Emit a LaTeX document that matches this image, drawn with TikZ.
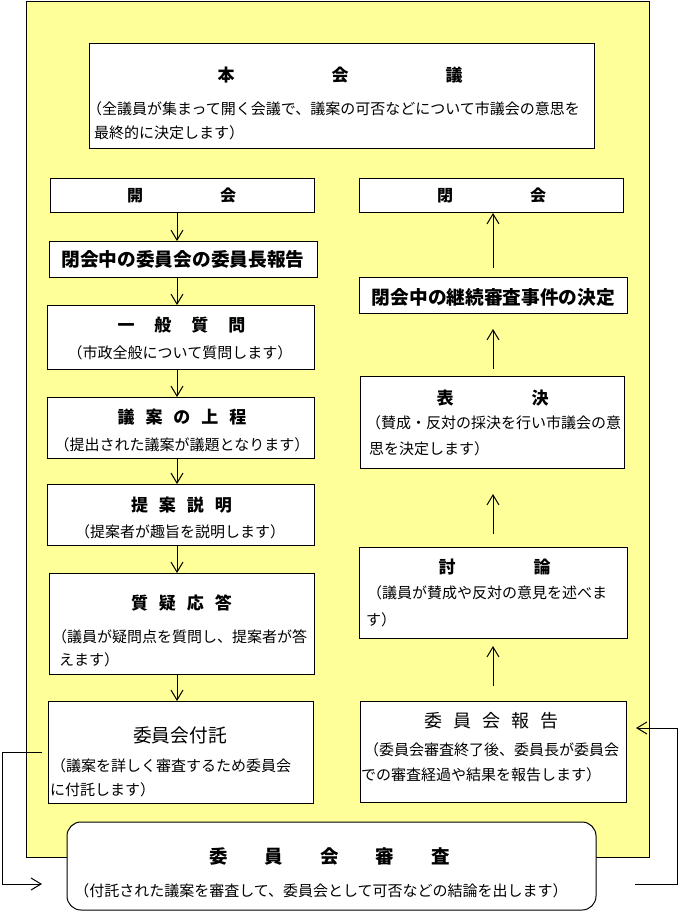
\documentclass[tikz,border=0pt]{standalone}
\usepackage{fontspec}
\newfontfamily\jp{Noto Sans CJK JP}
\usetikzlibrary{arrows.meta}
\definecolor{bgyellow}{HTML}{FFFF99}
\begin{document}
\begin{tikzpicture}[x=1pt,y=-1pt,
  box/.style={draw=black, line width=1pt, fill=white, anchor=north west, inner sep=0pt, outer sep=0pt},
  ttl/.style={inner sep=0pt, font=\jp\bfseries\fontsize{17}{17}\selectfont},
  ttlbig/.style={inner sep=0pt, font=\jp\bfseries\fontsize{18.7}{19}\selectfont},
  ttlreg/.style={inner sep=0pt, font=\jp\fontsize{18.7}{19}\selectfont},
  sub/.style={inner sep=0pt, font=\jp\fontsize{15}{15}\selectfont},
  subl/.style={sub, anchor=west},
  arr/.style={-{Straight Barb[length=10pt,width=12pt]}, line width=1pt}
]
\useasboundingbox (0,0) rectangle (679,911);
\fill[bgyellow, draw=black, line width=1pt] (26,1) rectangle (649,857);

% boxes
\node[box, minimum width=505pt, minimum height=105pt] (honkai) at (89,43) {};
\node[box, minimum width=264pt, minimum height=34pt] (kaikai) at (50,178) {};
\node[box, minimum width=268pt, minimum height=36pt] (ihoukoku) at (49,241) {};
\node[box, minimum width=267pt, minimum height=64pt] (ippan) at (47,305) {};
\node[box, minimum width=267pt, minimum height=61pt] (jotei) at (47,397) {};
\node[box, minimum width=267pt, minimum height=61pt] (setsumei) at (47,484) {};
\node[box, minimum width=265pt, minimum height=101pt] (shitsugi) at (49,573) {};
\node[box, minimum width=265pt, minimum height=102pt] (futaku) at (48,701) {};
\node[box, minimum width=264pt, minimum height=34pt] (heikai) at (359,178) {};
\node[box, minimum width=268pt, minimum height=36pt] (keizoku) at (359,277) {};
\node[box, minimum width=264pt, minimum height=92pt] (hyoketsu) at (360,376) {};
\node[box, minimum width=268pt, minimum height=91pt] (toron) at (359,547) {};
\node[box, minimum width=266pt, minimum height=101pt] (houkoku) at (360,701) {};
\node[box, rounded corners=14pt, minimum width=529pt, minimum height=88pt] (shinsa) at (67,822) {};

% texts
\node[ttl] (t-honkai) at (340,75) {本\hspace{97pt}会\hspace{97pt}議};
\node[subl] (s-honkai1) at (87,109) {（全議員が集まって開く会議で、議案の可否などについて市議会の意思を};
\node[subl] (s-honkai2) at (94,133) {最終的に決定します）};

\node[ttl, font=\jp\bfseries\fontsize{16}{16}\selectfont] (t-kaikai) at (181.5,195) {開\hspace{77pt}会};
\node[ttlbig] (t-ihoukoku) at (183,259) {閉会中の委員会の委員長報告};
\node[ttl] (t-ippan) at (181.5,325) {一\hspace{20pt}般\hspace{20pt}質\hspace{20pt}問};
\node[sub] (s-ippan) at (180,353) {（市政全般について質問します）};
\node[ttl] (t-jotei) at (182,417) {議\hspace{11pt}案\hspace{11pt}の\hspace{11pt}上\hspace{11pt}程};
\node[sub] (s-jotei) at (182,445) {（提出された議案が議題となります）};
\node[ttl] (t-setsumei) at (181.5,505) {提\hspace{11pt}案\hspace{11pt}説\hspace{11pt}明};
\node[sub] (s-setsumei) at (180,532) {（提案者が趣旨を説明します）};
\node[ttl] (t-shitsugi) at (181.5,603) {質\hspace{11pt}疑\hspace{11pt}応\hspace{11pt}答};
\node[subl] (s-shitsugi1) at (52,637) {（議員が疑問点を質問し、提案者が答};
\node[subl] (s-shitsugi2) at (59,660) {えます）};
\node[ttlreg] (t-futaku) at (180,735) {委員会付託};
\node[subl] (s-futaku1) at (51,766) {（議案を詳しく審査するため委員会};
\node[subl] (s-futaku2) at (50,790) {に付託します）};

\node[ttl, font=\jp\bfseries\fontsize{16}{16}\selectfont] (t-heikai) at (491.5,195) {閉\hspace{77pt}会};
\node[ttlbig] (t-keizoku) at (493.5,297) {閉会中の継続審査事件の決定};
\node[ttl] (t-hyoketsu) at (492.5,398) {表\hspace{78pt}決};
\node[subl] (s-hyoketsu1) at (366,423) {（賛成・反対の採決を行い市議会の意};
\node[subl] (s-hyoketsu2) at (369,449) {思を決定します）};
\node[ttl] (t-toron) at (494.5,567) {討\hspace{78pt}論};
\node[subl] (s-toron1) at (367,593) {（議員が賛成や反対の意見を述べま};
\node[subl] (s-toron2) at (366,620) {す）};
\node[ttlreg, font=\jp\fontsize{18}{18}\selectfont] (t-houkoku) at (491.5,721) {委\hspace{11pt}員\hspace{11pt}会\hspace{11pt}報\hspace{11pt}告};
\node[subl] (s-houkoku1) at (364,750) {（委員会審査終了後、委員長が委員会};
\node[subl] (s-houkoku2) at (361,775) {での審査経過や結果を報告します）};

\node[ttl, font=\jp\bfseries\fontsize{18.5}{18.5}\selectfont] (t-shinsa) at (329.5,856) {委\hspace{37pt}員\hspace{37pt}会\hspace{37pt}審\hspace{37pt}査};
\node[sub] (s-shinsa) at (321,891) {（付託された議案を審査して、委員会として可否などの結論を出します）};

% connectors
\coordinate (ax) at (177,0);
\coordinate (bx) at (493,0);
\draw[arr] (kaikai.south -| ax) -- (ihoukoku.north -| ax);
\draw[arr] (ihoukoku.south -| ax) -- (ippan.north -| ax);
\draw[arr] (ippan.south -| ax) -- (jotei.north -| ax);
\draw[arr] (jotei.south -| ax) -- (setsumei.north -| ax);
\draw[arr] (setsumei.south -| ax) -- (shitsugi.north -| ax);
\draw[arr] (shitsugi.south -| ax) -- (futaku.north -| ax);

\draw[arr, shorten <=9pt, shorten >=1pt] (keizoku.north -| bx) -- (heikai.south -| bx);
\draw[arr, shorten <=7pt, shorten >=16pt] (hyoketsu.north -| bx) -- (keizoku.south -| bx);
\draw[arr, shorten <=13pt, shorten >=26pt] (toron.north -| bx) -- (hyoketsu.south -| bx);
\draw[arr, shorten <=15pt, shorten >=8pt] (houkoku.north -| bx) -- (toron.south -| bx);

\coordinate (lb) at (2,884);
\coordinate (lt) at (42,884);
\draw[arr] ([xshift=-6pt]futaku.west) -| (lb) -- (lt);

\coordinate (rs) at (635,884);
\coordinate (rc) at (677,884);
\coordinate (rt) at (636,728);
\draw[arr] (rs) -- (rc) |- (rt);
\end{tikzpicture}
\end{document}
